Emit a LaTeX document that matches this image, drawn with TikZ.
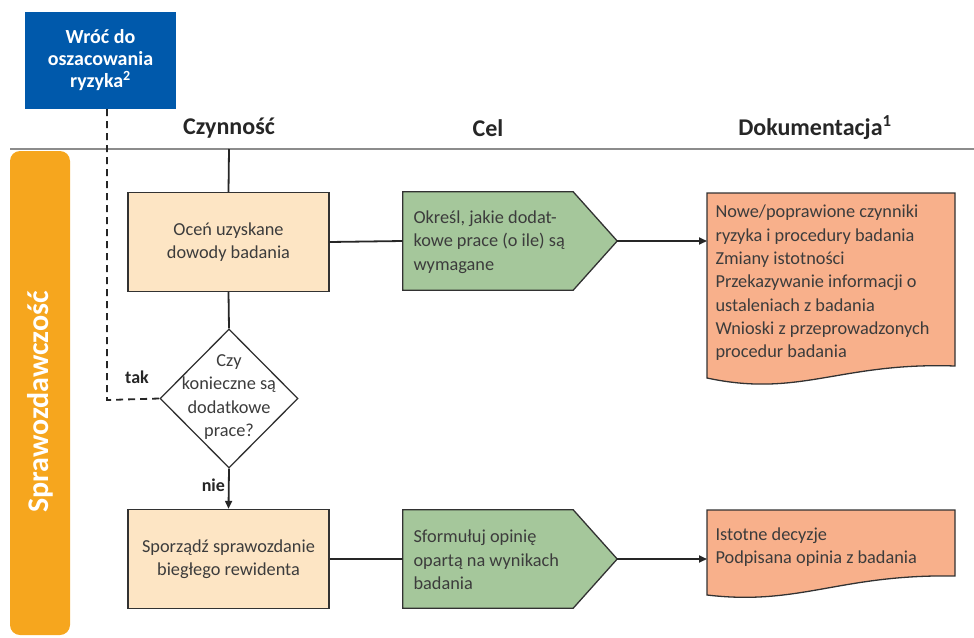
\documentclass[tikz,border=0pt]{standalone}
\usepackage{fontspec}
\setmainfont{Carlito}
\usetikzlibrary{arrows.meta,shapes.geometric,backgrounds}
\definecolor{blueb}{RGB}{0,89,171}
\definecolor{lanec}{RGB}{246,166,30}
\definecolor{peach}{RGB}{253,229,196}
\definecolor{greenb}{RGB}{165,199,155}
\definecolor{salmon}{RGB}{248,176,139}
\definecolor{txt}{RGB}{60,60,60}
\definecolor{hdr}{RGB}{38,38,38}
\definecolor{edge}{RGB}{50,50,50}
\begin{document}
\begin{tikzpicture}[x=1pt,y=-1pt,
  body/.style={font=\fontsize{18.3}{23.3}\selectfont, text=txt},
  box/.style={body, draw=edge, line width=1.3pt, fill=peach, minimum width=201pt, minimum height=99pt, align=center, inner sep=0pt},
  hidden/.style={minimum width=214pt, minimum height=98pt, inner sep=0pt},
  header/.style={font=\fontsize{24}{28}\bfseries\selectfont, text=hdr},
  conn/.style={line width=1.8pt, draw=hdr},
  arr/.style={conn, -{Triangle[length=8pt,width=7pt]}},
  shp/.style={draw=edge, line width=1.3pt},
  lbl/.style={font=\fontsize{18}{20}\bfseries\selectfont, text=hdr}
]
\useasboundingbox (0,0) rectangle (974,637);

% blue box
\node[fill=blueb, minimum width=151pt, minimum height=97pt, inner sep=0pt, align=center, text=white,
      font=\fontsize{20}{22}\bfseries\selectfont] (back) at (100.5,60.5) {Wróć do\\oszacowania\\ryzyka\textsuperscript{2}};

% headers
\node[header] (hcz) at (229,128) {Czynność};
\node[header] (hcel) at (488,128) {Cel};
\node[header] (hdok) at (815,128) {Dokumentacja\textsuperscript{1}};
\draw[line width=1.4pt, draw=black!45] (10,149) -- (974,149);

% lane
\fill[lanec, rounded corners=10pt] (10,151) rectangle (70,635);
\node[rotate=90, text=white, font=\fontsize{30}{33}\bfseries\selectfont] (lane) at (40,402) {Sprawozdawczość};

% activity boxes
\node[box] (b1) at (228.5,242) {Oceń uzyskane\\dowody badania};
\node[box] (b2) at (228.5,559) {Sporządź sprawozdanie\\biegłego rewidenta};

% diamond
\node[diamond, draw=edge, line width=1.3pt, fill=white, minimum width=138pt, minimum height=139pt, inner sep=0pt, aspect=1] (d) at (229,398.5) {};
\node[body, align=center] (dt) at (229,397) {Czy\\konieczne są\\dodatkowe\\prace?};

% green pentagons
\node[hidden] (g1) at (510,241) {};
\node[hidden] (g2) at (510,559) {};
\fill[greenb] (g1.north west) -- ([xshift=-44pt]g1.north east) -- (g1.east) -- ([xshift=-44pt]g1.south east) -- (g1.south west) -- cycle;
\draw[shp] (g1.north west) -- ([xshift=-44pt]g1.north east) -- (g1.east) -- ([xshift=-44pt]g1.south east) -- (g1.south west) -- cycle;
\fill[greenb] (g2.north west) -- ([xshift=-44pt]g2.north east) -- (g2.east) -- ([xshift=-44pt]g2.south east) -- (g2.south west) -- cycle;
\draw[shp] (g2.north west) -- ([xshift=-44pt]g2.north east) -- (g2.east) -- ([xshift=-44pt]g2.south east) -- (g2.south west) -- cycle;
\node[body, align=left, anchor=west] (g1t) at (410,242) {Określ, jakie dodat-\\kowe prace (o ile) są\\wymagane};
\node[body, align=left, anchor=west] (g2t) at (410,560) {Sformułuj opinię\\opartą na wynikach\\badania};

% documents
\coordinate (dA) at (707,241);
\coordinate (dB) at (707,559);
\path[fill=salmon, shp] (707,193) -- (955,193) -- (955,366) .. controls (840,362) and (800,398) .. (707,378) -- cycle;
\path[fill=salmon, shp] (707,510) -- (955,510) -- (955,576) .. controls (840,574) and (800,606) .. (707,595) -- cycle;
\node[body, align=left, anchor=west] (doc1) at (712,283) {Nowe/poprawione czynniki\\ryzyka i procedury badania\\Zmiany istotności\\Przekazywanie informacji o\\ustaleniach z badania\\Wnioski z przeprowadzonych\\procedur badania};
\node[body, align=left, anchor=west] (doc2) at (712,547) {Istotne decyzje\\Podpisana opinia z badania};

% connectors
\coordinate (top) at (229,149);
\draw[conn] (top) -- (b1.north);
\draw[conn] (b1.south) -- (d.north);
\draw[arr] (d.south) -- node[pos=0.42, left, lbl, inner sep=3pt] (nie) {nie} (b2.north);
\draw[conn] (b1.east) -- (g1.west);
\draw[conn] (b2.east) -- (g2.west);
\draw[arr] (g1.east) -- (dA);
\draw[arr] (g2.east) -- (dB);
\coordinate (corner) at (107,400);
\draw[line width=1.8pt, draw=hdr, dash pattern=on 7pt off 5pt] (back.south -| corner) -- (corner) -- (d.west);
\node[lbl] (tak) at (137,377) {tak};
\end{tikzpicture}
\end{document}
